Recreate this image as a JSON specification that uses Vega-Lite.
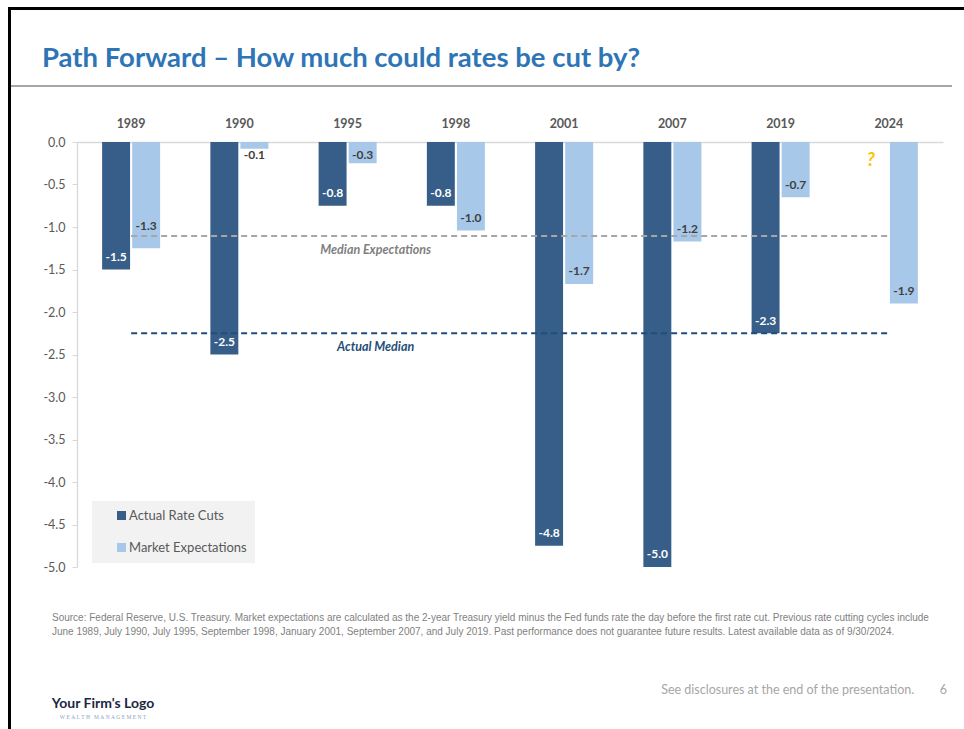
{
  "$schema": "https://vega.github.io/schema/vega-lite/v6.json",
  "background": "white",
  "padding": {"left": 8, "top": 7, "right": 0, "bottom": 0},
  "datasets": {
    "rates": [
      {"year": "1989", "series": "Actual Rate Cuts", "value": -1.5},
      {"year": "1989", "series": "Market Expectations", "value": -1.25},
      {"year": "1990", "series": "Actual Rate Cuts", "value": -2.5},
      {"year": "1990", "series": "Market Expectations", "value": -0.08},
      {"year": "1995", "series": "Actual Rate Cuts", "value": -0.75},
      {"year": "1995", "series": "Market Expectations", "value": -0.25},
      {"year": "1998", "series": "Actual Rate Cuts", "value": -0.75},
      {"year": "1998", "series": "Market Expectations", "value": -1.04},
      {"year": "2001", "series": "Actual Rate Cuts", "value": -4.75},
      {"year": "2001", "series": "Market Expectations", "value": -1.67},
      {"year": "2007", "series": "Actual Rate Cuts", "value": -5.0},
      {"year": "2007", "series": "Market Expectations", "value": -1.17},
      {"year": "2019", "series": "Actual Rate Cuts", "value": -2.25},
      {"year": "2019", "series": "Market Expectations", "value": -0.65},
      {"year": "2024", "series": "Market Expectations", "value": -1.9}
    ],
    "medians": [
      {"year": "1989", "median": -1.105, "kind": "Median Expectations"},
      {"year": "2024", "median": -1.105, "kind": "Median Expectations"},
      {"year": "1989", "median": -2.25, "kind": "Actual Median"},
      {"year": "2024", "median": -2.25, "kind": "Actual Median"}
    ],
    "medianLabels": [
      {"year": "1995", "median": -1.105, "kind": "Median Expectations"},
      {"year": "1995", "median": -2.25, "kind": "Actual Median"}
    ],
    "unknown": [
      {"year": "2024", "series": "Actual Rate Cuts", "label": "?"}
    ],
    "empty": []
  },
  "spacing": 0,
  "bounds": "flush",
  "hconcat": [
    {"width": 3, "height": 722, "view": {"fill": "#000000", "stroke": null}, "data": {"name": "empty"}, "mark": {"type": "point", "opacity": 0}},
    {
      "spacing": 0,
      "bounds": "flush",
      "vconcat": [
        {"width": 953, "height": 3, "view": {"fill": "#000000", "stroke": null}, "data": {"name": "empty"}, "mark": {"type": "point", "opacity": 0}},
        {"width": 1, "height": 75, "data": {"name": "empty"}, "mark": {"type": "point", "opacity": 0}},
        {
          "width": 941, "height": 2,
          "view": {"fill": "#A6A6A6", "stroke": null},
          "data": {"name": "empty"},
          "mark": {"type": "point", "opacity": 0},
          "title": {"text": "Path Forward – How much could rates be cut by?", "anchor": "start", "frame": "group", "dx": 31, "offset": 13, "font": "Lato", "fontSize": 27.5, "fontWeight": "bold", "color": "#2E75B6"}
        },
        {"width": 1, "height": 55, "data": {"name": "empty"}, "mark": {"type": "point", "opacity": 0}},
        {
          "width": 932,
          "height": 425,
          "layer": [
            {
              "data": {"name": "rates"},
              "mark": {"type": "bar"},
              "encoding": {
                "x": {"field": "year", "type": "nominal", "title": null,
                  "scale": {"range": [66, 932], "paddingInner": 0.464, "paddingOuter": 0.232},
                  "axis": {"orient": "top", "domain": true, "domainColor": "#D9D9D9", "domainWidth": 1.3, "ticks": false, "tickSize": 0, "labelPadding": 12, "labelAngle": 0, "labelFont": "Lato", "labelFontSize": 12.5, "labelFontWeight": "bold", "labelColor": "#595959"}},
                "xOffset": {"field": "series", "type": "nominal", "sort": ["Actual Rate Cuts", "Market Expectations"], "scale": {"paddingInner": 0.07}},
                "y": {"field": "value", "type": "quantitative", "title": null,
                  "scale": {"domain": [-5, 0], "nice": false},
                  "axis": {"offset": -66, "values": [0, -0.5, -1, -1.5, -2, -2.5, -3, -3.5, -4, -4.5, -5], "format": ".1f", "grid": false, "domainColor": "#D9D9D9", "domainWidth": 1.3, "tickColor": "#D9D9D9", "tickSize": 5, "labelPadding": 7, "labelFont": "Lato", "labelFontSize": 12.5, "labelColor": "#595959"}},
                "color": {"field": "series", "type": "nominal",
                  "scale": {"domain": ["Actual Rate Cuts", "Market Expectations"], "range": ["#365E88", "#A7C8E8"]},
                  "legend": {"title": null, "orient": "none", "legendX": 84, "legendY": 494, "fillColor": "#F2F2F2", "padding": 8, "symbolType": "square", "symbolSize": 81, "symbolOffset": 15, "symbolStrokeWidth": 0, "labelFont": "Lato", "labelFontSize": 13, "labelColor": "#595959", "labelOffset": 1, "rowPadding": 18, "direction": "vertical"}}
              }
            },
            {
              "data": {"name": "rates"},
              "transform": [
                {"calculate": "min(datum.value + 0.15, -0.15)", "as": "pos"},
                {"calculate": "abs(datum.pos + 1.105) < 0.05 ? datum.pos + 0.11 : datum.pos", "as": "labelY"}
              ],
              "mark": {"type": "text", "font": "Lato", "fontSize": 12, "fontWeight": "bold", "baseline": "middle"},
              "encoding": {
                "x": {"field": "year", "type": "nominal", "title": null},
                "xOffset": {"field": "series", "type": "nominal", "sort": ["Actual Rate Cuts", "Market Expectations"]},
                "y": {"field": "labelY", "type": "quantitative", "title": null},
                "text": {"field": "value", "type": "quantitative", "format": ".1f"},
                "color": {"condition": {"test": "datum.series === 'Actual Rate Cuts'", "value": "#FFFFFF"}, "value": "#404040"}
              }
            },
            {
              "data": {"name": "unknown"},
              "mark": {"type": "text", "font": "Lato", "fontSize": 19, "fontWeight": "bold", "fontStyle": "italic", "color": "#FFC000", "baseline": "middle", "dx": -3, "dy": 18},
              "encoding": {
                "x": {"field": "year", "type": "nominal", "title": null},
                "xOffset": {"field": "series", "type": "nominal", "sort": ["Actual Rate Cuts", "Market Expectations"]},
                "y": {"datum": 0},
                "text": {"field": "label"}
              }
            },
            {
              "data": {"name": "medians"},
              "transform": [{"filter": "datum.kind === 'Median Expectations'"}],
              "mark": {"type": "line", "color": "#A6A6A6", "strokeWidth": 2, "strokeDash": [6, 4]},
              "encoding": {
                "x": {"field": "year", "type": "nominal", "title": null},
                "y": {"field": "median", "type": "quantitative", "title": null}
              }
            },
            {
              "data": {"name": "medians"},
              "transform": [{"filter": "datum.kind === 'Actual Median'"}],
              "mark": {"type": "line", "color": "#1F4E79", "strokeWidth": 2, "strokeDash": [6, 4]},
              "encoding": {
                "x": {"field": "year", "type": "nominal", "title": null},
                "y": {"field": "median", "type": "quantitative", "title": null}
              }
            },
            {
              "data": {"name": "medianLabels"},
              "mark": {"type": "text", "font": "Lato", "fontSize": 12.5, "fontWeight": "bold", "fontStyle": "italic", "baseline": "middle", "dx": 28, "dy": 14},
              "encoding": {
                "x": {"field": "year", "type": "nominal", "title": null},
                "y": {"field": "median", "type": "quantitative", "title": null},
                "text": {"field": "kind"},
                "color": {"condition": {"test": "datum.kind === 'Actual Median'", "value": "#1F4E79"}, "value": "#7F7F7F"}
              }
            }
          ]
        },
        {"width": 1, "height": 73, "data": {"name": "empty"}, "mark": {"type": "point", "opacity": 0}},
        {
          "width": 936, "height": 1,
          "data": {"name": "empty"},
          "mark": {"type": "point", "opacity": 0},
          "title": {
            "text": [
              "Source: Federal Reserve, U.S. Treasury. Market expectations are calculated as the 2-year Treasury yield minus the Fed funds rate the day before the first rate cut. Previous rate cutting cycles include",
              "June 1989, July 1990, July 1995, September 1998, January 2001, September 2007, and July 2019. Past performance does not guarantee future results. Latest available data as of 9/30/2024."
            ],
            "anchor": "start", "frame": "group", "orient": "top", "offset": 3, "dx": 41,
            "font": "Liberation Sans", "fontSize": 10, "fontWeight": "normal", "color": "#7F7F7F", "lineHeight": 14
          }
        },
        {
          "width": 184, "height": 1,
          "data": {"name": "empty"},
          "mark": {"type": "point", "opacity": 0},
          "title": {
            "text": "Your Firm's Logo",
            "subtitle": "W\u00a0E\u00a0A\u00a0L\u00a0T\u00a0H\u00a0\u00a0\u00a0M\u00a0A\u00a0N\u00a0A\u00a0G\u00a0E\u00a0M\u00a0E\u00a0N\u00a0T",
            "orient": "bottom", "anchor": "middle", "frame": "group", "offset": 55,
            "font": "Lato", "fontSize": 14, "fontWeight": "bold", "color": "#1C2841",
            "subtitleFont": "Liberation Serif", "subtitleFontSize": 5.5, "subtitleColor": "#8FA3C4", "subtitlePadding": 4
          }
        },
        {
          "width": 936, "height": 1,
          "data": {"name": "empty"},
          "mark": {"type": "point", "opacity": 0},
          "title": {
            "text": "See disclosures at the end of the presentation.\u00a0\u00a0\u00a0\u00a0\u00a0\u00a0\u00a0\u00a06",
            "orient": "bottom", "anchor": "end", "frame": "group", "offset": 41,
            "font": "Lato", "fontSize": 12.5, "fontWeight": "normal", "color": "#A6A6A6"
          }
        }
      ]
    }
  ],
  "config": {
    "view": {"stroke": null},
    "font": "Lato",
    "locale": {"number": {"decimal": ".", "thousands": ",", "grouping": [3], "currency": ["$", ""], "minus": "-"}},
    "axis": {"grid": false}
  }
}
